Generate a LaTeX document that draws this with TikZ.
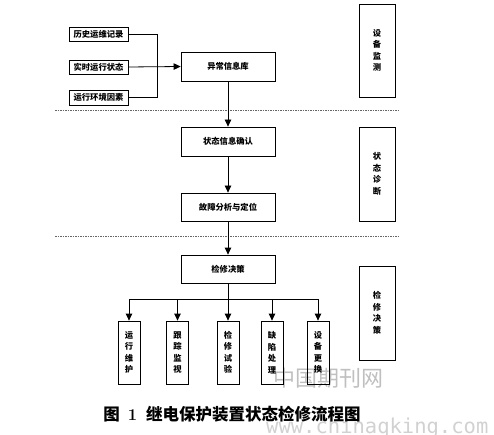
\documentclass[tikz,border=0pt]{standalone}
\usepackage{fontspec}
\newfontfamily\cjk{Noto Sans CJK SC}
\newfontfamily\wmono{DejaVu Sans Mono}
\usetikzlibrary{arrows.meta}
\tikzset{
  box/.style={draw=black, line width=0.8pt, inner sep=0pt, font=\cjk\bfseries\fontsize{8.3}{11.5}\selectfont, align=center},
  hbox/.style={box, minimum width=94pt, minimum height=29pt},
  sbox/.style={box, minimum width=59pt, minimum height=14pt},
  rbox/.style={box, minimum width=36pt, minimum height=94pt},
  vbox/.style={box, minimum width=22pt, minimum height=63pt},
  conn/.style={draw=black, line width=0.8pt},
  arr/.style={conn, -{Triangle[width=6.5pt,length=7pt]}},
  sep/.style={draw=black!60, line width=0.7pt, dash pattern=on 1.5pt off 1pt},
}
\begin{document}
\begin{tikzpicture}[x=1pt,y=-1pt]
\useasboundingbox (0,0) rectangle (494,435);
% watermark
\node[text=black!25, font=\cjk\fontsize{22}{24}\selectfont, inner sep=0pt] (wm1) at (328,378) {中国期刊网};
\node[text=black!18, font=\wmono\fontsize{20.5}{22}\selectfont, inner sep=0pt, anchor=base west] (wm2) at (266,433) {www.chinaqking.com};
% separators
\coordinate (l1a) at (55,110); \coordinate (l1b) at (400,110);
\coordinate (l2a) at (55,236); \coordinate (l2b) at (400,236);
\draw[sep] (l1a) -- (l1b);
\draw[sep] (l2a) -- (l2b);
% inputs
\node[sbox] (h1) at (98.5,34) {历史运维记录};
\node[sbox] (h2) at (98.5,67) {实时运行状态};
\node[sbox, minimum height=15pt] (h3) at (98.5,97.5) {运行环境因素};
\node[hbox] (ex) at (228,66.5) {异常信息库};
\coordinate (j) at (157,67);
\draw[conn] (h1.east) -| (j);
\draw[conn] (h3.east) -| (j);
\draw[arr] (h2.east) -- (ex.west);
% diagnosis
\node[hbox] (s1) at (228,141.5) {状态信息确认};
\node[hbox, minimum height=28pt] (s2) at (228,207) {故障分析与定位};
\node[hbox, minimum height=28pt] (d) at (228,269) {检修决策};
\draw[arr] (ex.south) -- (s1.north);
\draw[arr] (s1.south) -- (s2.north);
\draw[arr] (s2.south) -- (d.north);
% right phase boxes
\node[rbox, minimum height=93pt] (r1) at (377,50.5) {设\\备\\监\\测};
\node[rbox] (r2) at (377,174) {状\\态\\诊\\断};
\node[rbox] (r3) at (377,313) {检\\修\\决\\策};
% actions
\node[vbox] (b1) at (129,352.5) {运\\行\\维\\护};
\node[vbox] (b2) at (177.5,352.5) {跟\\踪\\监\\视};
\node[vbox] (b3) at (228,352.5) {检\\修\\试\\验};
\node[vbox] (b4) at (272,352.5) {缺\\陷\\处\\理};
\node[vbox] (b5) at (318,352.5) {设\\备\\更\\换};
\coordinate (br) at (228,299);
\draw[conn] (b1.north |- br) -- (b5.north |- br);
\draw[arr] (d.south) -- (b3.north);
\draw[arr] (b1.north |- br) -- (b1.north);
\draw[arr] (b2.north |- br) -- (b2.north);
\draw[arr] (b4.north |- br) -- (b4.north);
\draw[arr] (b5.north |- br) -- (b5.north);
% caption
\node[font=\cjk\bfseries\fontsize{16.5}{19}\selectfont, inner sep=0pt] (cap) at (232,414) {图\hspace{8pt}{\rmfamily\bfseries 1}\hspace{9pt}继电保护装置状态检修流程图};
\end{tikzpicture}
\end{document}
